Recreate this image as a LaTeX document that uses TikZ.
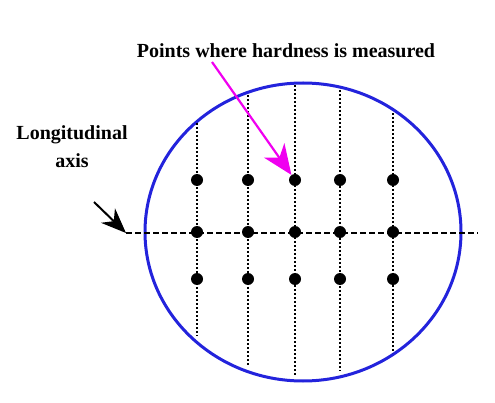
\documentclass[tikz,border=0pt]{standalone}
\usepackage{fontspec}
\setmainfont{Liberation Serif}
\usetikzlibrary{arrows.meta}

\definecolor{palBlue}{HTML}{2323DC}
\definecolor{palMag}{HTML}{F000F0}

\begin{document}
\begin{tikzpicture}[
    x=1pt, y=-1pt,
    lbl/.style={font=\fontsize{20}{28}\selectfont\bfseries, text=black, inner sep=0pt},
    spot/.style={circle, fill=black, inner sep=0pt, minimum size=12pt},
    track/.style={line width=1.8pt, dash pattern=on 2pt off 2pt},
]
\useasboundingbox (0,0) rectangle (495,403);

% Cross-section outline
\draw[palBlue, line width=3pt] (303,232) ellipse [x radius=158, y radius=149];

% Longitudinal axis (dashed)
\coordinate (axisL) at (126,233);
\coordinate (axisR) at (478,233);
\draw[line width=2pt, dash pattern=on 6pt off 3pt] (axisL) -- (axisR);

% Measuring tracks and points (x / top / bottom)
\foreach \x/\t/\b [count=\i] in {197/123/336, 248/95/365, 295/85/376, 340/90/371, 393/113/353} {
    \draw[track] (\x,\t) -- (\x,\b);
    \foreach \y [count=\j] in {180,232,279} {
        \node[spot] (d\i\j) at (\x,\y) {};
    }
}

% Labels
\node[lbl, anchor=base] (title) at (286,58) {Points where hardness is measured};
\node[lbl, anchor=base, align=center] (axislbl) at (72,168) {Longitudinal\\axis};

% Pointer arrows
\coordinate (pstart) at (212,62);
\draw[palMag, line width=2.2pt, -{Stealth[length=30pt, width=25pt, inset=9pt]}]
    (pstart) -- (d31);
\coordinate (astart) at (94,202);
\draw[line width=2pt, -{Stealth[length=25pt, width=20pt, inset=8pt]}]
    (astart) -- (axisL);

\end{tikzpicture}
\end{document}
